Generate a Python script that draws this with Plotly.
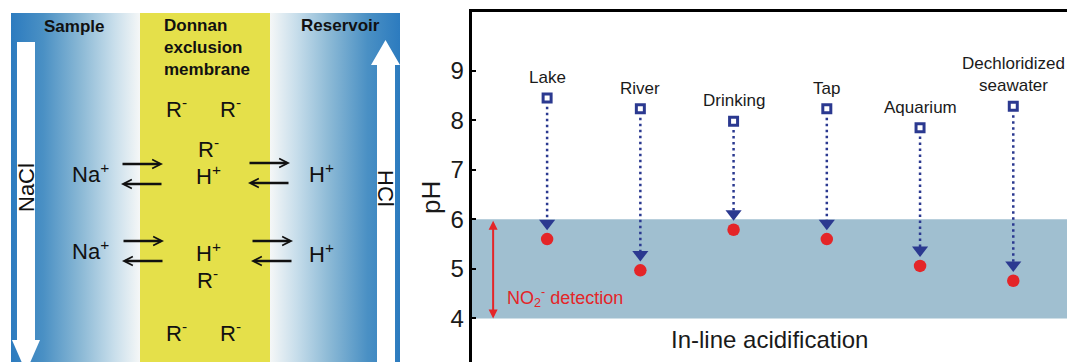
import plotly.graph_objects as go

# ---------------- data (right panel) ----------------
samples = ["Lake", "River", "Drinking", "Tap", "Aquarium", "Dechloridized seawater"]
labels = ["Lake", "River", "Drinking", "Tap", "Aquarium", "Dechloridized<br>seawater"]
ph_initial = [8.45, 8.23, 7.98, 8.23, 7.85, 8.28]
ph_final = [5.60, 4.97, 5.79, 5.60, 5.06, 4.76]
y_ticks = [4, 5, 6, 7, 8, 9]
detect_range = [4, 6]

# ---------------- style ----------------
OFF = 8                      # default page body margin of the browser
W, H = 1075 - OFF, 362 - OFF
FONT = "Liberation Sans"
NAVY = "#2b3990"
RED = "#e42528"
BAND = "#a0bfd0"
YELLOW = "#e5e04a"
ARROW_GAP = 0.32       # pH gap between arrowhead and final point
LINE_START_GAP = 0.18  # gap below the initial square

left_scale = [[0, "#2c7bbf"], [0.25, "#4a90c4"], [0.55, "#8dbad6"], [0.8, "#c8deeb"], [1, "#f5f7f7"]]
right_scale = [[0, "#f5f7f7"], [0.2, "#c8deeb"], [0.45, "#8dbad6"], [0.75, "#4a90c4"], [1, "#2c7bbf"]]

fig = go.Figure()

# ---------------- left diagram (page-pixel axes x2/y2) ----------------
def poly(xs, ys, **kw):
    fig.add_trace(go.Scatter(x=xs, y=ys, mode="lines", fill="toself", line=dict(width=0),
                             xaxis="x2", yaxis="y2", hoverinfo="skip", showlegend=False, **kw))

poly([11, 140, 140, 11, 11], [13, 13, 362, 362, 13],
     fillgradient=dict(type="horizontal", colorscale=left_scale))
poly([270, 400, 400, 270, 270], [13, 13, 362, 362, 13],
     fillgradient=dict(type="horizontal", colorscale=right_scale))
poly([140, 270, 270, 140, 140], [13, 13, 362, 362, 13], fillcolor=YELLOW)
# NaCl flow arrow (down)
poly([17, 35, 35, 40, 26, 12, 17, 17], [42, 42, 340, 340, 372, 340, 340, 42], fillcolor="white")
# HCl flow arrow (up)
poly([377, 395, 395, 400, 385.5, 371, 377, 377], [370, 370, 65, 65, 40, 65, 65, 370], fillcolor="white")

ann = []
def dtext(x, y, text, size=22, **kw):
    d = dict(x=x, y=y, xref="x2", yref="y2", text=text, showarrow=False,
             font=dict(family=FONT, size=size, color="#111111"))
    d.update(kw)
    ann.append(d)

dtext(74, 26, "<b>Sample</b>", size=17)
dtext(162, 47, "<b>Donnan<br>exclusion<br>membrane</b>", size=17, xanchor="left", align="left")
dtext(340, 25, "<b>Reservoir</b>", size=17)
dtext(26, 188, "NaCl", size=22, textangle=-90)
dtext(386, 188, "HCl", size=22, textangle=90)

for yy in (108, 332):
    dtext(176, yy, "R<sup>-</sup>")
    dtext(230, yy, "R<sup>-</sup>")
dtext(208, 148, "R<sup>-</sup>")
dtext(208, 175, "H<sup>+</sup>")
dtext(208, 252, "H<sup>+</sup>")
dtext(207, 279, "R<sup>-</sup>")
dtext(90, 173, "Na<sup>+</sup>")
dtext(90, 250, "Na<sup>+</sup>")
dtext(321, 173, "H<sup>+</sup>")
dtext(321, 253, "H<sup>+</sup>")

def darrow(x0, x1, y):
    ann.append(dict(x=x1, y=y, ax=x0, ay=y, xref="x2", yref="y2", axref="x2", ayref="y2",
                    text="", showarrow=True, arrowhead=5, arrowsize=0.7, arrowwidth=2.5,
                    arrowcolor="#111111", standoff=0))

for (xa, xb, yt, yb) in [(121, 163, 164, 184), (122, 164, 241, 261),
                         (248, 290, 163, 183), (251, 293, 241, 261)]:
    darrow(xa, xb, yt)
    darrow(xb, xa, yb)

# ---------------- right chart ----------------
fig.add_shape(type="rect", xref="x domain", x0=0, x1=1, yref="y", y0=detect_range[0], y1=detect_range[1],
              fillcolor=BAND, line=dict(width=0), layer="below")

lx, ly = [], []
for s, a, b in zip(samples, ph_initial, ph_final):
    lx += [s, s, None]
    ly += [a - LINE_START_GAP, b + ARROW_GAP, None]
fig.add_trace(go.Scatter(x=lx, y=ly, mode="lines", line=dict(color=NAVY, width=2.5, dash="2.5px,3.5px"),
                         hoverinfo="skip", showlegend=False))
fig.add_trace(go.Scatter(x=samples, y=[b + ARROW_GAP for b in ph_final], mode="markers",
                         marker=dict(symbol="triangle-down", size=14, color=NAVY), showlegend=False))
fig.add_trace(go.Scatter(x=samples, y=ph_initial, mode="markers",
                         marker=dict(symbol="square", size=8, color="white", line=dict(color=NAVY, width=3)),
                         showlegend=False))
fig.add_trace(go.Scatter(x=samples, y=ph_final, mode="markers",
                         marker=dict(symbol="circle", size=12.5, color=RED), showlegend=False))

for s, lab, a in zip(samples, labels, ph_initial):
    ann.append(dict(x=s, y=a, xref="x", yref="y", text=lab, showarrow=False, yanchor="bottom", yshift=9,
                    font=dict(family=FONT, size=17, color="#1a1a1a")))

ann.append(dict(x=-0.579, y=detect_range[0], ax=-0.579, ay=detect_range[1], xref="x", yref="y",
                axref="x", ayref="y", text="", showarrow=True, arrowhead=2, startarrowhead=2,
                arrowside="end+start", arrowsize=0.9, startarrowsize=0.9, arrowwidth=2,
                arrowcolor=RED, standoff=0, startstandoff=0))
ann.append(dict(x=-0.447, y=4.43, xref="x", yref="y", text="NO<sub>2</sub><sup>-</sup> detection",
                showarrow=False, xanchor="left", font=dict(family=FONT, size=18, color=RED)))
ann.append(dict(x=2.39, y=3.566, xref="x", yref="y", text="In-line acidification", showarrow=False,
                font=dict(family=FONT, size=24, color="#1a1a1a")))
ann.append(dict(x=(431 - OFF) / W, y=1 - (198 - OFF) / H, xref="paper", yref="paper", text="pH",
                showarrow=False, textangle=-90, font=dict(family=FONT, size=26, color="#1a1a1a")))

fig.update_layout(
    width=W, height=H, margin=dict(l=0, r=0, t=0, b=0, pad=0),
    paper_bgcolor="white", plot_bgcolor="white", showlegend=False,
    font=dict(family=FONT),
    xaxis=dict(domain=[(471.5 - OFF) / W, 1], type="category", categoryorder="array", categoryarray=samples,
               range=[-0.811, 5.662], side="top", showline=True, linecolor="black", linewidth=2.5,
               showticklabels=False, ticks="", showgrid=False, zeroline=False, anchor="y"),
    yaxis=dict(domain=[0, 1 - (11.7 - OFF) / H], range=[3.12, 10.19], tickvals=y_ticks, ticks="inside",
               ticklen=5, tickwidth=2, tickcolor="black", showline=True, linewidth=2.5, linecolor="black",
               showgrid=False, zeroline=False, anchor="x",
               tickfont=dict(family=FONT, size=24, color="#1a1a1a")),
    xaxis2=dict(domain=[0, (420 - OFF) / W], range=[OFF, 420], visible=False, anchor="y2", fixedrange=True),
    yaxis2=dict(domain=[0, 1], range=[362, OFF], visible=False, anchor="x2", fixedrange=True),
    annotations=ann,
)

fig.write_html("out.html")
